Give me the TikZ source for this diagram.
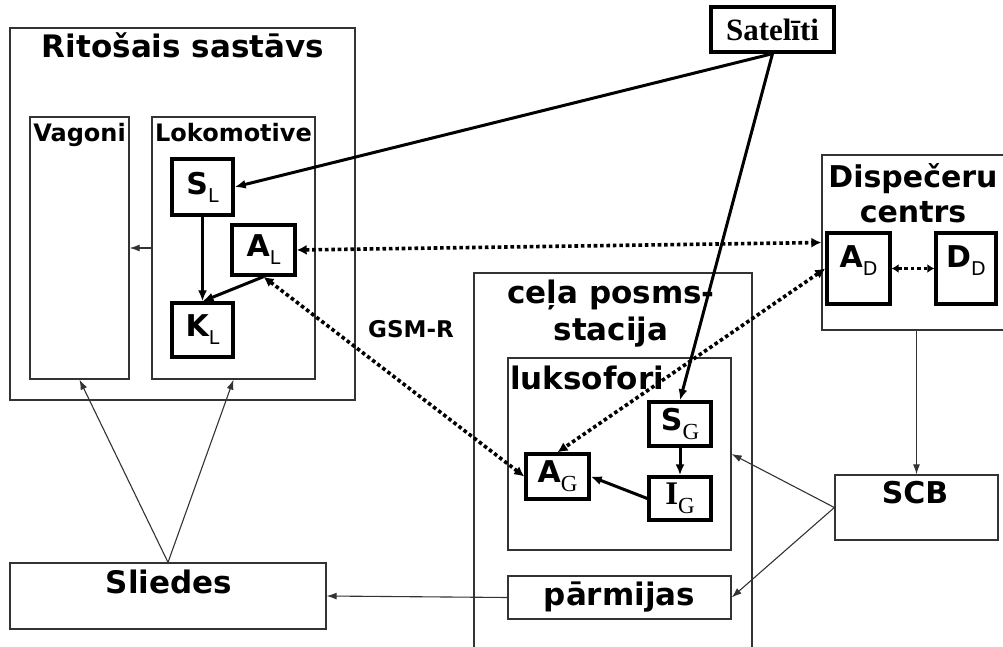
\documentclass[tikz,border=0pt]{standalone}
\usepackage{fontspec}
\setmainfont{DejaVu Sans}
\newfontfamily\serfont{Liberation Serif}
\usetikzlibrary{arrows.meta}
\newcommand{\fs}[1]{\fontsize{#1}{#1}\selectfont}
\newcommand{\subl}[2]{{\fs{30}\bfseries #1}\raisebox{-8pt}{\fs{19}\mdseries #2}}
\newcommand{\subg}[2]{{\fs{30}\bfseries #1}\raisebox{-9pt}{\serfont\fs{23}\mdseries #2}}
\begin{document}
\begin{tikzpicture}[x=1pt,y=-1pt,
  thinbox/.style={draw=black!80, line width=1.3pt, inner sep=0pt},
  smallbox/.style={draw=black, line width=3.4pt, inner sep=0pt},
  ttl/.style={font=\fs{31}\bfseries, anchor=base, inner sep=0pt},
  sublabel/.style={font=\fs{24}\bfseries, anchor=base, inner sep=0pt},
  thinarrow/.style={draw=black!80, line width=1.1pt, -{Latex[length=10pt,width=7pt]}},
  thickarrow/.style={draw=black, line width=3pt, -{Latex[length=11pt,width=9pt]}},
  dotarrow/.style={draw=black, line width=3.6pt, dash pattern=on 3.6pt off 2.8pt, {Latex[length=10pt,width=10pt]}-{Latex[length=10pt,width=10pt]}},
  shortdot/.style={draw=black, line width=3.6pt, dash pattern=on 3.6pt off 2.8pt, {Latex[length=7pt,width=9pt]}-{Latex[length=7pt,width=9pt]}},
]
\useasboundingbox (0,0) rectangle (1003,647);

% Ritosais sastavs
\node[thinbox, minimum width=345, minimum height=372] (rit) at (182.5,214) {};
\node[ttl] (ritT) at (183,58) {Ritošais sastāvs};
\node[thinbox, minimum width=99, minimum height=262] (vag) at (79.5,248) {};
\node[sublabel] (vagT) at (79.5,142) {Vagoni};
\node[thinbox, minimum width=163, minimum height=262] (lok) at (233.5,248) {};
\node[sublabel] (lokT) at (233.5,142) {Lokomotive};
\node[smallbox, minimum width=61, minimum height=56] (SL) at (202.5,187) {\subl{S}{L}};
\node[smallbox, minimum width=63, minimum height=50] (AL) at (263.5,250) {\subl{A}{L}};
\node[smallbox, minimum width=61, minimum height=54] (KL) at (202.5,330) {\subl{K}{L}};

% Sateliti
\node[smallbox, minimum width=123, minimum height=45, font=\serfont\fs{31}\bfseries] (sat) at (772.5,29.5) {Satelīti};

% Dispeceru centrs
\node[thinbox, minimum width=200, minimum height=175] (disp) at (922,242.5) {};
\node[ttl, font=\fs{30}\bfseries] (dispT1) at (913,187) {Dispečeru};
\node[ttl, font=\fs{30}\bfseries] (dispT2) at (913,222) {centrs};
\node[smallbox, minimum width=63, minimum height=71] (AD) at (858.5,268.5) {};
\node[anchor=base, inner sep=0pt] (ADt) at (858.5,267) {\subl{A}{D}};
\node[smallbox, minimum width=60, minimum height=71] (DD) at (966,268.5) {};
\node[anchor=base, inner sep=0pt] (DDt) at (966,267) {\subl{D}{D}};

% cela posms - stacija
\node[thinbox, minimum width=278, minimum height=400] (cela) at (613,473) {};
\node[ttl] (celaT1) at (611,303) {ceļa posms-};
\node[ttl] (celaT2) at (611,340) {stacija};
\node[thinbox, minimum width=223, minimum height=192] (luks) at (619.5,454) {};
\node[ttl, anchor=base west] (luksT) at (510,389) {luksofori};
\node[smallbox, minimum width=62, minimum height=44] (SG) at (680,424) {\subg{S}{G}};
\node[smallbox, minimum width=62, minimum height=43] (IG) at (680,498.5) {{\serfont\fs{33}\bfseries I}\raisebox{-9pt}{\serfont\fs{23}G}};
\node[smallbox, minimum width=63, minimum height=45] (AG) at (557.5,476.5) {\subg{A}{G}};
\node[thinbox, minimum width=223, minimum height=43, font=\fs{31}\bfseries] (parm) at (619.5,597.5) {pārmijas};

% Sliedes, SCB
\node[thinbox, minimum width=316, minimum height=66] (sl) at (168,596) {};
\node[ttl] (slT) at (169,593) {Sliedes};
\node[thinbox, minimum width=163, minimum height=65] (scb) at (916.5,507.5) {};
\node[ttl, font=\fs{30}\bfseries] (scbT) at (915,503) {SCB};

\node[anchor=base, inner sep=0pt, font=\fs{23}\bfseries] (gsm) at (411,337) {GSM-R};

% connectors
\draw[thinarrow] (lok.west) -- (vag.east);
\draw[thinarrow] (sl.north) -- (vag.south);
\draw[thinarrow] (sl.north) -- (lok.south);
\draw[thinarrow] (parm.west) -- (sl.east);
\draw[thinarrow] (scb.north |- disp.south) -- (scb.north);
\draw[thinarrow] (scb.west) -- (luks.east);
\draw[thinarrow] (scb.west) -- (parm.east);

\draw[thickarrow] (sat.south) -- (SL.east);
\draw[thickarrow] (sat.south) -- (SG.north);
\draw[thickarrow] (SL.south) -- (KL.north);
\draw[thickarrow] (AL.south) -- (KL.north);
\draw[thickarrow] (SG.south) -- (IG.north);
\draw[thickarrow] (IG.west) -- (AG.east);

\draw[dotarrow] (AL.east) -- (disp.west);
\draw[dotarrow] (AL.south) -- (AG.west);
\draw[dotarrow] (AD.west) -- (AG.north);
\draw[shortdot] (AD.east) -- (DD.west);
\end{tikzpicture}
\end{document}
